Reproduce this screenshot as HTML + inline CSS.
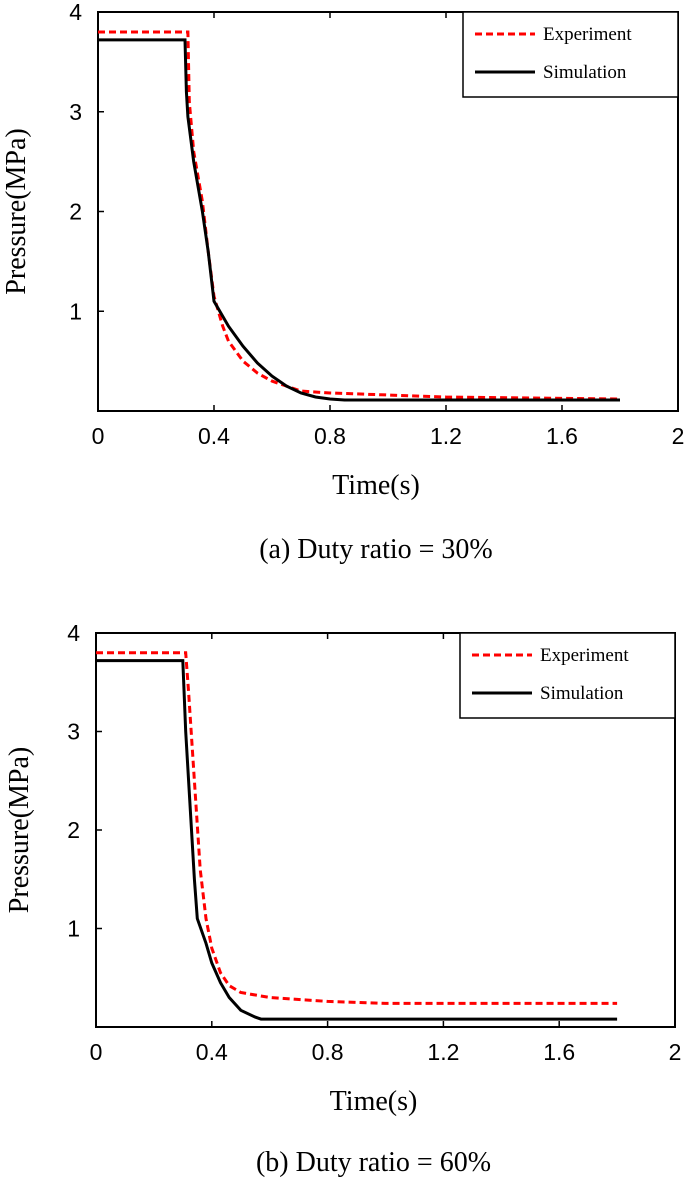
<!DOCTYPE html>
<html><head><meta charset="utf-8"><style>
body{margin:0;background:#fff;width:685px;height:1178px;overflow:hidden}
svg text{fill:#000}
.tk{font-family:"Liberation Sans",sans-serif;font-size:23px}
.ti{font-family:"Liberation Serif",serif;font-size:28px}
.lg{font-family:"Liberation Serif",serif;font-size:19px}
</style></head><body>
<svg id="s" width="685" height="1178"></svg>
<script>
const xTicks=[0,0.4,0.8,1.2,1.6,2];
const xTickLabels=["0","0.4","0.8","1.2","1.6","2"];
const yTicks=[1,2,3,4];
const yTickLabels=["1","2","3","4"];
const aExpT=[0,0.31,0.315,0.33,0.36,0.38,0.40,0.43,0.45,0.5,0.55,0.6,0.65,0.7,0.8,1.0,1.2,1.8];
const aExpP=[3.8,3.8,3.1,2.6,2.1,1.6,1.15,0.85,0.7,0.5,0.38,0.3,0.25,0.2,0.18,0.16,0.14,0.12];
const aSimT=[0,0.30,0.305,0.31,0.33,0.36,0.38,0.40,0.45,0.5,0.55,0.6,0.65,0.7,0.75,0.8,0.85,1.8];
const aSimP=[3.72,3.72,3.2,2.95,2.5,2.0,1.6,1.1,0.85,0.65,0.48,0.35,0.25,0.18,0.14,0.12,0.11,0.11];
const bExpT=[0,0.31,0.32,0.34,0.36,0.38,0.4,0.43,0.46,0.5,0.6,0.8,1.0,1.8];
const bExpP=[3.8,3.8,3.4,2.5,1.6,1.1,0.8,0.55,0.42,0.35,0.3,0.26,0.24,0.24];
const bSimT=[0,0.30,0.31,0.32,0.33,0.34,0.35,0.38,0.4,0.43,0.46,0.5,0.55,0.57,1.8];
const bSimP=[3.72,3.72,3.0,2.5,2.0,1.5,1.1,0.85,0.65,0.45,0.3,0.17,0.1,0.08,0.08];
const s=document.getElementById('s');
const NS='http://www.w3.org/2000/svg';
function el(t,a,txt){const e=document.createElementNS(NS,t);for(const k in a)e.setAttribute(k,a[k]);if(txt!==undefined)e.textContent=txt;s.appendChild(e);return e;}
function chart(p){
 const X=v=>p.x0+(p.x1-p.x0)*v/2, Y=v=>p.y1-(p.y1-p.y0)*v/4;
 let e=el('rect',{x:p.x0,y:p.y0,width:p.x1-p.x0,height:p.y1-p.y0,fill:'none',stroke:'#000','stroke-width':2});
 
 
 xTicks.forEach((v,i)=>{
  e=el('line',{x1:X(v),x2:X(v),y1:p.y1,y2:p.y1-6,stroke:'#000','stroke-width':1.5});
  
  
  e=el('line',{x1:X(v),x2:X(v),y1:p.y0,y2:p.y0+6,stroke:'#000','stroke-width':1.5});
  
  
  e=el('text',{x:X(v),y:p.y1+33,'text-anchor':'middle',class:'tk'},xTickLabels[i]);
  
  
 });
 yTicks.forEach((v,i)=>{
  e=el('line',{x1:p.x0,x2:p.x0+6,y1:Y(v),y2:Y(v),stroke:'#000','stroke-width':1.5});
  
  
  e=el('text',{x:p.x0-16,y:Y(v)+8,'text-anchor':'end',class:'tk'},yTickLabels[i]);
  
  
 });
 const path=(T,P)=>T.map((t,i)=>(i?'L':'M')+X(t).toFixed(1)+' '+Y(P[i]).toFixed(1)).join(' ');
 e=el('path',{d:path(p.eT,p.eP),fill:'none',stroke:'#f00','stroke-width':3,'stroke-dasharray':'7 4'});
 
 
 e=el('path',{d:path(p.sT,p.sP),fill:'none',stroke:'#000','stroke-width':3});
 
 
 const lx=p.x1-215, ly=p.y0;
 e=el('rect',{x:lx,y:ly,width:215,height:85,fill:'#fff',stroke:'#000','stroke-width':1.5});
 
 
 e=el('line',{x1:lx+12,x2:lx+72,y1:ly+22,y2:ly+22,stroke:'#f00','stroke-width':3,'stroke-dasharray':'7 4'});
 
 
 e=el('text',{x:lx+80,y:ly+28,class:'lg'},'Experiment');
 
 
 e=el('line',{x1:lx+12,x2:lx+72,y1:ly+60,y2:ly+60,stroke:'#000','stroke-width':3});
 
 
 e=el('text',{x:lx+80,y:ly+66,class:'lg'},'Simulation');
 
 
 const cy=(p.y0+p.y1)/2;
 e=el('text',{x:p.yt,y:cy,'text-anchor':'middle',class:'ti',transform:`rotate(-90 ${p.yt} ${cy})`},'Pressure(MPa)');
 
 
 e=el('text',{x:(p.x0+p.x1)/2-12,y:p.y1+83,'text-anchor':'middle',class:'ti'},'Time(s)');
 
 
 e=el('text',{x:(p.x0+p.x1)/2-12,y:p.y1+p.capOff,'text-anchor':'middle',class:'ti'},p.cap);
 
 
}
chart({id:'chart-a',x0:98,x1:678,y0:12,y1:411,yt:25,capOff:147,eT:aExpT,eP:aExpP,sT:aSimT,sP:aSimP,cap:'(a) Duty ratio = 30%'});
chart({id:'chart-b',x0:96,x1:675,y0:633,y1:1027,yt:28,capOff:144,eT:bExpT,eP:bExpP,sT:bSimT,sP:bSimP,cap:'(b) Duty ratio = 60%'});
</script>
</body></html>
